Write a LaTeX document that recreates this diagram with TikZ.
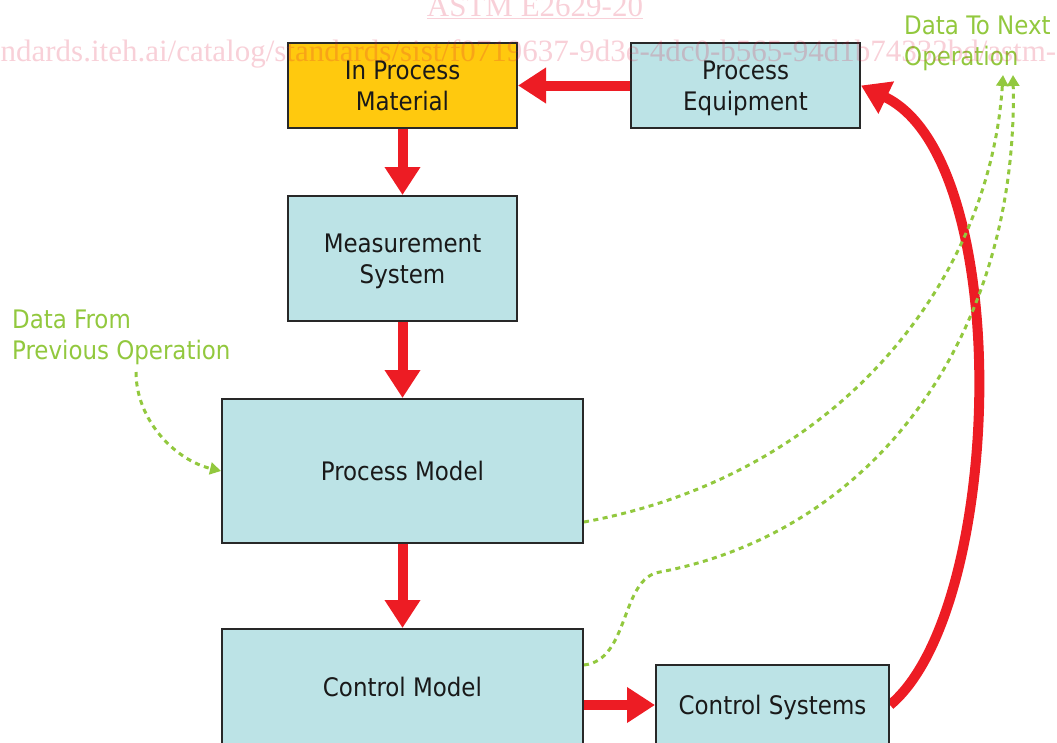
\documentclass[tikz,border=0pt]{standalone}
\usepackage{fontspec}
\setmainfont{DejaVu Sans Condensed}
\newfontfamily\wmfont{Liberation Serif}
\usetikzlibrary{arrows.meta,calc}

\definecolor{boxblue}{RGB}{188,227,230}
\definecolor{boxgold}{RGB}{255,201,14}
\definecolor{boxline}{RGB}{40,40,40}
\definecolor{flowred}{RGB}{237,28,36}
\definecolor{datagreen}{RGB}{146,200,62}
\definecolor{wmred}{RGB}{220,20,60}

\pgfdeclarelayer{background}
\pgfsetlayers{background,main}

\begin{document}
\begin{tikzpicture}[x=1pt,y=-1pt,
  box/.style={draw=boxline, line width=2pt, fill=boxblue, text=black!90,
    align=center, inner sep=0pt, text depth=0pt, font=\fontsize{25.5}{31}\selectfont},
  flow/.style={draw=flowred, line width=10pt,
    -{Triangle[length=28pt,width=34pt]}},
  datalink/.style={draw=datagreen, line width=3pt, dash pattern=on 5pt off 4.5pt,
    -{Triangle[length=11pt,width=12pt]}},
  note/.style={text=datagreen, align=left, inner sep=0pt,
    font=\fontsize{25.5}{31}\selectfont},
  stamp/.style={text=wmred, text opacity=0.2, inner sep=0pt},
]
\useasboundingbox (0,0) rectangle (1057,742);

% process blocks
\node[box, fill=boxgold, minimum width=229pt, minimum height=85pt] (ipm) at (402.5,85.5) {In Process\\Material};
\node[box, minimum width=229pt, minimum height=85pt] (peq) at (745.5,85.5) {Process\\Equipment};
\node[box, minimum width=229pt, minimum height=125pt] (meas) at (402.5,258.5) {Measurement\\System};
\node[box, minimum width=361pt, minimum height=144pt] (pmod) at (402.5,471) {Process Model};
\node[box, minimum width=361pt, minimum height=116pt] (cmod) at (402.5,687) {Control Model};
\node[box, minimum width=233pt, minimum height=80pt] (csys) at (772.5,705) {Control Systems};

% external data labels
\node[note, anchor=north west] (dfrom) at (12,310) {Data From\\Previous Operation};
\node[note, anchor=north west] (dnext) at (904,16) {Data To Next\\Operation};

\coordinate (fromtail) at (136,372);
\coordinate (tonext1) at (1003,75);
\coordinate (tonext2) at (1013,75);

\begin{pgfonlayer}{background}
  % material and control flow
  \draw[flow] (peq.west) -- (ipm.east);
  \draw[flow] (ipm.south) -- (meas.north);
  \draw[flow] (meas.south) -- (pmod.north);
  \draw[flow] (pmod.south) -- (cmod.north);
  \draw[flow] (cmod.east |- csys.west) -- (csys.west);
  \draw[flow] (csys.east) .. controls (1004,610) and (1016,160) .. (peq.east);

  % data exchange with neighbouring operations
  \draw[datalink] (fromtail) .. controls (136,420) and (175,460) .. (pmod.west);
  \draw[datalink] ($(pmod.east)+(0,51)$) .. controls (840,475) and (990,280) .. (tonext1);
  \draw[datalink] ($(cmod.east)+(0,-22)$) .. controls (630,660) and (620,578) .. (660,572)
    .. controls (880,530) and (1018,330) .. (tonext2);
\end{pgfonlayer}

% document stamp
\node[stamp, anchor=base, font=\wmfont\fontsize{31}{31}\selectfont] (stampid) at (535,16) {\underline{ASTM E2629-20}};
\node[stamp, anchor=base west, font=\wmfont\fontsize{31}{31}\selectfont] (stampurl) at (-34,61)
  {standards.iteh.ai/catalog/standards/sist/f0719637-9d3e-4dc0-b565-94d1b74332bd/astm-e2629-20};
\end{tikzpicture}
\end{document}
